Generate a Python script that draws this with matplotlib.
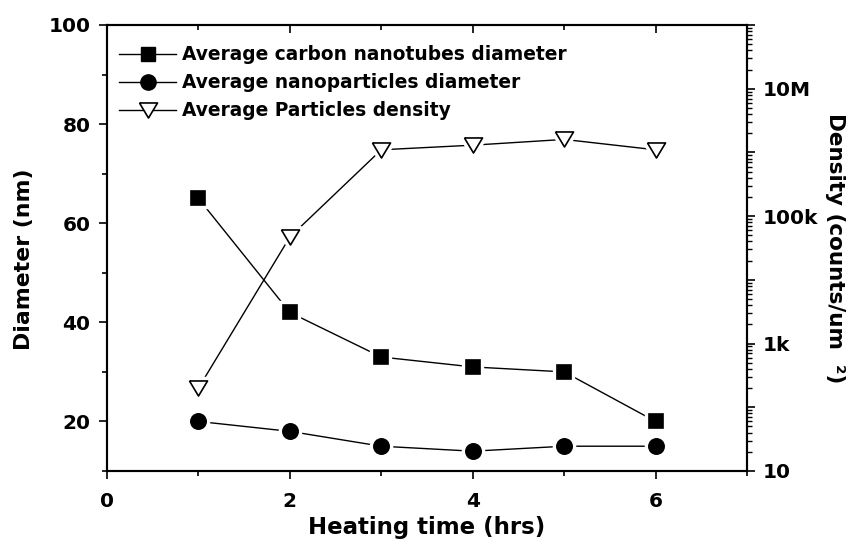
import math
import matplotlib
matplotlib.use("Agg")
import matplotlib.pyplot as plt
from matplotlib.lines import Line2D
from matplotlib.ticker import FixedLocator, LogLocator, FuncFormatter, NullFormatter, MultipleLocator

plt.rcParams['font.family'] = ['DejaVu Sans']
plt.rcParams['font.weight'] = 'bold'

hours = [1, 2, 3, 4, 5, 6]
cnt_diameter = [65, 42, 33, 31, 30, 20]
np_diameter = [20, 18, 15, 14, 15, 15]
density = [200, 4.7e4, 1.1e6, 1.3e6, 1.6e6, 1.1e6]

labels = ["Average carbon nanotubes diameter",
          "Average nanoparticles diameter",
          "Average Particles density"]

TRI = [(-0.6, 0.5), (0.6, 0.5), (0.0, -0.5), (-0.6, 0.5)]

fig = plt.figure(figsize=(8.58, 5.45), dpi=100)
ax = fig.add_axes([107/858, 1-471/545, 640/858, 446/545])
ax2 = ax.twinx()

def series(a, x, y, marker, ms, face):
    a.plot(x, y, '-', color='black', lw=1.0, zorder=1)
    a.plot(x, y, linestyle='none', marker=marker, ms=ms, mfc='white', mec='white', mew=6, zorder=2)
    a.plot(x, y, linestyle='none', marker=marker, ms=ms, mfc=face, mec='black', mew=1.2, zorder=3)

series(ax, hours, cnt_diameter, 's', 9.6, 'black')
series(ax, hours, np_diameter, 'o', 11, 'black')
series(ax2, hours, density, TRI, 13, 'white')

ax.set_xlim(0, 7)
ax.set_ylim(10, 100)
ax2.set_yscale('log')
ax2.set_ylim(10, 1e8)

ax.xaxis.set_major_locator(MultipleLocator(2))
ax.xaxis.set_minor_locator(MultipleLocator(1))
ax.yaxis.set_major_locator(FixedLocator([20, 40, 60, 80, 100]))
ax.yaxis.set_minor_locator(MultipleLocator(10))

ax2.yaxis.set_major_locator(LogLocator(base=10, numticks=20))
ax2.yaxis.set_minor_locator(LogLocator(base=10, subs=range(2, 10), numticks=20))
names = {1: '10', 3: '1k', 5: '100k', 7: '10M'}
def fmt(v, pos):
    e = int(round(math.log10(v)))
    return names.get(e, '')
ax2.yaxis.set_major_formatter(FuncFormatter(fmt))
ax2.yaxis.set_minor_formatter(NullFormatter())

for a in (ax, ax2):
    for s in a.spines.values():
        s.set_linewidth(1.5)

ax.tick_params(axis='both', which='major', direction='out', length=6, width=1.2,
               labelsize=14.5, pad=6)
ax.tick_params(axis='both', which='minor', direction='out', length=3.5, width=1.2)
ax.tick_params(axis='x', which='both', top=True)
ax.tick_params(axis='x', which='major', pad=9)
ax.tick_params(axis='y', which='both', right=False)
ax2.tick_params(axis='y', which='major', direction='out', length=6, width=1.2,
                labelsize=14.5, pad=5)
ax2.tick_params(axis='y', which='minor', direction='out', length=3.5, width=1.0)

for t in ax.xaxis.get_major_ticks() + ax.xaxis.get_minor_ticks():
    t.tick2line.set_marker(matplotlib.lines.TICKDOWN)

ax.set_xlabel("Heating time (hrs)", fontsize=16.5, fontweight='bold', labelpad=4)
ax.set_ylabel("Diameter (nm)", fontsize=15.8, fontweight='bold')
ax.yaxis.set_label_coords(-0.114, 0.475)
ax2.set_ylabel("Density (counts/um  ²)", fontsize=15.5, fontweight='bold',
               rotation=270, labelpad=20)

handles = [
    Line2D([], [], color='black', lw=1.0, marker='s', ms=9.6, mfc='black', mec='black'),
    Line2D([], [], color='black', lw=1.0, marker='o', ms=11, mfc='black', mec='black'),
    Line2D([], [], color='black', lw=1.0, marker=TRI, ms=13, mfc='white', mec='black', mew=1.2),
]
leg = ax2.legend(handles, labels, loc='upper left', bbox_to_anchor=(0.019, 0.955),
                 frameon=False, handlelength=3.07, handletextpad=0.32,
                 labelspacing=0.49, borderaxespad=0.0, borderpad=0.0,
                 prop={'weight': 'bold', 'size': 13.4})

fig.savefig("out.png", dpi=100)
